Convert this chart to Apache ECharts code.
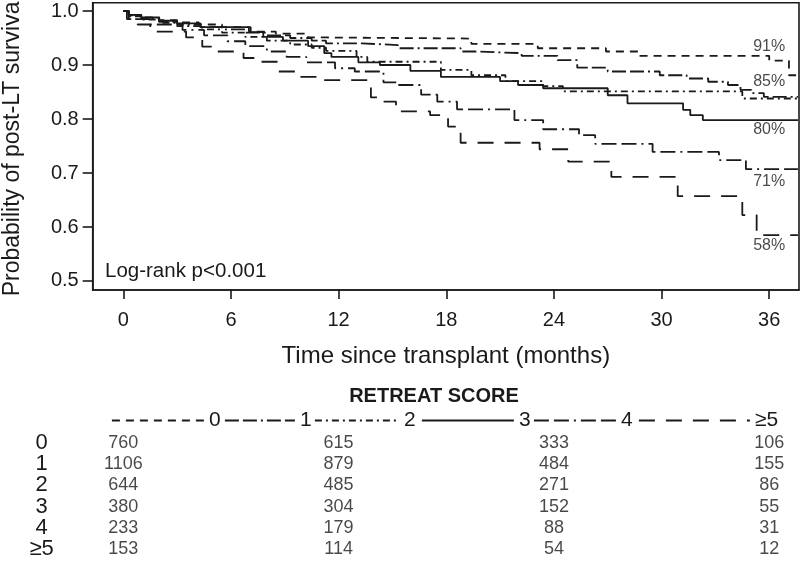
<!DOCTYPE html>
<html><head><meta charset="utf-8">
<script src="https://cdn.jsdelivr.net/npm/echarts@6/dist/echarts.min.js"></script>
<style>html,body{margin:0;padding:0;background:#fff}#c{width:800px;height:572px}</style>
</head><body><div id="c"></div>
<script>
// ---- data ----
const xTicks = [0, 6, 12, 18, 24, 30, 36];
const yTicks = [0.5, 0.6, 0.7, 0.8, 0.9, 1.0];
const scoreNames = ['0', '1', '2', '3', '4', '≥5'];

const km0 = [[0,1],[0.3,0.993],[1,0.988],[2,0.983],[3,0.979],[4.2,0.975],[5.5,0.970],[7,0.962],[8.5,0.958],[10.3,0.951],[11.3,0.949],[19.4,0.939],[23.1,0.931],[26.9,0.925],[28.7,0.917],[36,0.908],[37.1,0.881],[37.6,0.881]];
const km1 = [[0,1],[0.3,0.992],[1,0.986],[2,0.980],[3,0.975],[4.3,0.970],[5.5,0.966],[6.8,0.960],[8,0.955],[9.3,0.950],[10.5,0.945],[11.3,0.940],[13.3,0.937],[15.3,0.931],[18.8,0.925],[19.6,0.922],[22.2,0.917],[24.2,0.909],[25.3,0.895],[27,0.888],[29.9,0.881],[31.4,0.875],[32.6,0.869],[33.7,0.863],[34.4,0.854],[35,0.848],[35.7,0.841],[37.6,0.841]];
const km2 = [[0,1],[0.3,0.990],[1,0.984],[2,0.978],[3,0.972],[4.3,0.966],[5.5,0.960],[6.8,0.952],[8,0.945],[9.3,0.938],[10.5,0.932],[11.3,0.926],[13,0.915],[13.6,0.906],[17.7,0.891],[19.4,0.881],[21.3,0.870],[23.4,0.861],[24.5,0.851],[34.5,0.838],[37.6,0.838]];
const km3 = [[0,1],[0.3,0.993],[1,0.988],[2,0.982],[3,0.977],[4.3,0.970],[7.1,0.961],[7.8,0.952],[8.9,0.945],[10.3,0.935],[11.2,0.922],[11.6,0.915],[13.1,0.905],[14.3,0.900],[16,0.889],[17.7,0.878],[21,0.870],[22,0.863],[23.4,0.857],[27,0.844],[28.1,0.829],[31.2,0.817],[31.6,0.807],[32.3,0.798],[37.6,0.798]];
const km4 = [[0,1],[0.3,0.985],[1.5,0.975],[3.3,0.965],[4.5,0.955],[5.8,0.944],[6.8,0.935],[8,0.925],[9.1,0.915],[10.2,0.905],[11.8,0.894],[12.9,0.888],[14.5,0.868],[15.2,0.863],[16.6,0.845],[17.5,0.832],[18.6,0.818],[21.8,0.798],[23.4,0.781],[25.4,0.770],[26.3,0.754],[29.5,0.739],[33.2,0.724],[34.7,0.707],[37.6,0.707]];
const km5 = [[0,1],[0.2,0.985],[0.8,0.975],[1.5,0.962],[3.5,0.951],[4.4,0.934],[5.2,0.925],[6.7,0.913],[7.5,0.906],[8.6,0.888],[9.8,0.878],[11.1,0.872],[13.8,0.840],[14.4,0.832],[15.2,0.814],[17.1,0.807],[18.1,0.786],[18.8,0.756],[23.2,0.744],[24.8,0.721],[27.2,0.693],[30.9,0.657],[34.5,0.622],[35.3,0.585],[37.6,0.585]];

const endLabels = ['91%', '85%', '80%', '71%', '58%'];
const endLabelValues = [0.935, 0.870, 0.780, 0.685, 0.566];
const endLabelTime = 36;

const riskTimes = [0, 12, 24, 36];
const risk0 = [760, 615, 333, 106];
const risk1 = [1106, 879, 484, 155];
const risk2 = [644, 485, 271, 86];
const risk3 = [380, 304, 152, 55];
const risk4 = [233, 179, 88, 31];
const risk5 = [153, 114, 54, 12];

// ---- styles ----
const ink = '#1a1a1a';
const FONT = "'Liberation Sans', Arial, sans-serif";
const NARROW = "'Liberation Sans Narrow', 'Liberation Sans', Arial, sans-serif";
const curves = [km0, km1, km2, km3, km4, km5];
const dashTypes = [[8,6], [14,4,14,4,2,4], [7,4,2,4], 'solid', [15,5,15,5,2,5], [16,11]];
const riskRows = [risk0, risk1, risk2, risk3, risk4, risk5];

const legendLeft = [111, 224, 314, 421, 533, 638];
const legendWidth = [92, 70, 84, 92, 82, 111];

const X_MIN = -1.706, X_MAX = 37.66;
const Y_MIN = 0.4833, Y_MAX = 1.0154;

const chart = echarts.init(document.getElementById('c'), null, {renderer: 'canvas'});

const series = curves.map((d, i) => ({
  name: scoreNames[i], type: 'line', step: 'end', data: d,
  xAxisIndex: 0, yAxisIndex: 0,
  symbol: 'none', silent: true, animation: false,
  lineStyle: {color: ink, width: 1.8, type: dashTypes[i]},
  itemStyle: {color: ink}
}));

series.push({
  type: 'scatter', xAxisIndex: 0, yAxisIndex: 0, silent: true, animation: false,
  symbolSize: 1, itemStyle: {color: 'rgba(0,0,0,0)'},
  data: endLabels.map((t, i) => ({name: t, value: [endLabelTime, endLabelValues[i]]})),
  label: {show: true, position: 'inside', formatter: p => p.name,
    color: ink, fontSize: 16, fontFamily: FONT}
});

const riskData = [];
riskRows.forEach((row, r) => row.forEach((v, c) => riskData.push([riskTimes[c], scoreNames[r], v])));
series.push({
  type: 'scatter', xAxisIndex: 1, yAxisIndex: 1, silent: true, animation: false,
  symbolSize: 1, itemStyle: {color: 'rgba(0,0,0,0)'},
  data: riskData,
  label: {show: true, position: 'inside', formatter: p => String(p.value[2]),
    color: ink, fontSize: 18, fontFamily: NARROW}
});

const legends = scoreNames.map((n, i) => ({
  data: [n], left: legendLeft[i], top: 410, padding: 0,
  itemWidth: legendWidth[i], itemHeight: 18, selectedMode: false,
  textStyle: {color: ink, fontSize: 21, fontFamily: NARROW},
  itemStyle: {opacity: 0},
  lineStyle: {width: 1.8}
}));

chart.setOption({
  backgroundColor: '#fff',
  animation: false,
  grid: [
    {left: 92.7, right: 1, top: 2.7, bottom: 282, show: true, borderColor: ink, borderWidth: 1.6,
     backgroundColor: 'transparent', outerBoundsMode: 'none'},
    {left: 92.7, right: 1, top: 432.4, bottom: 12.4, outerBoundsMode: 'none'}
  ],
  xAxis: [
    {type: 'value', gridIndex: 0, min: X_MIN, max: X_MAX,
     name: 'Time since transplant (months)', nameLocation: 'middle', nameGap: 54,
     nameTextStyle: {color: ink, fontSize: 24, fontFamily: FONT},
     axisLine: {show: true, onZero: false, lineStyle: {color: ink, width: 1.6}},
     axisTick: {show: true, length: 9, customValues: xTicks, lineStyle: {color: ink, width: 1.6}},
     axisLabel: {customValues: xTicks, margin: 20, color: ink, fontSize: 20, fontFamily: FONT},
     splitLine: {show: false}},
    {type: 'value', gridIndex: 1, min: X_MIN, max: X_MAX, show: false}
  ],
  yAxis: [
    {type: 'value', gridIndex: 0, min: Y_MIN, max: Y_MAX,
     name: 'Probability of post-LT survival', nameLocation: 'middle', nameGap: 69,
     nameTextStyle: {color: ink, fontSize: 23, fontFamily: FONT},
     axisLine: {show: true, onZero: false, lineStyle: {color: ink, width: 1.6}},
     axisTick: {show: true, length: 10, customValues: yTicks, lineStyle: {color: ink, width: 1.6}},
     axisLabel: {customValues: yTicks, margin: 14, color: ink, fontSize: 20, fontFamily: FONT,
       formatter: v => v.toFixed(1)},
     splitLine: {show: false}},
    {type: 'category', gridIndex: 1, data: scoreNames, inverse: true,
     axisLine: {show: false}, axisTick: {show: false}, splitLine: {show: false},
     axisLabel: {interval: 0, margin: 51, align: 'center', color: ink, fontSize: 22, fontFamily: NARROW}}
  ],
  legend: legends,
  graphic: [
    {type: 'text', left: 105, top: 261,
     style: {text: 'Log-rank p<0.001', fill: ink, font: "20.5px 'Liberation Sans', Arial, sans-serif"}},
    {type: 'text', x: 434, y: 396,
     style: {text: 'RETREAT SCORE', fill: ink, align: 'center', verticalAlign: 'middle',
       font: "bold 20px 'Liberation Sans Narrow', 'Liberation Sans', Arial, sans-serif"}}
  ],
  series: series
});
</script></body></html>
